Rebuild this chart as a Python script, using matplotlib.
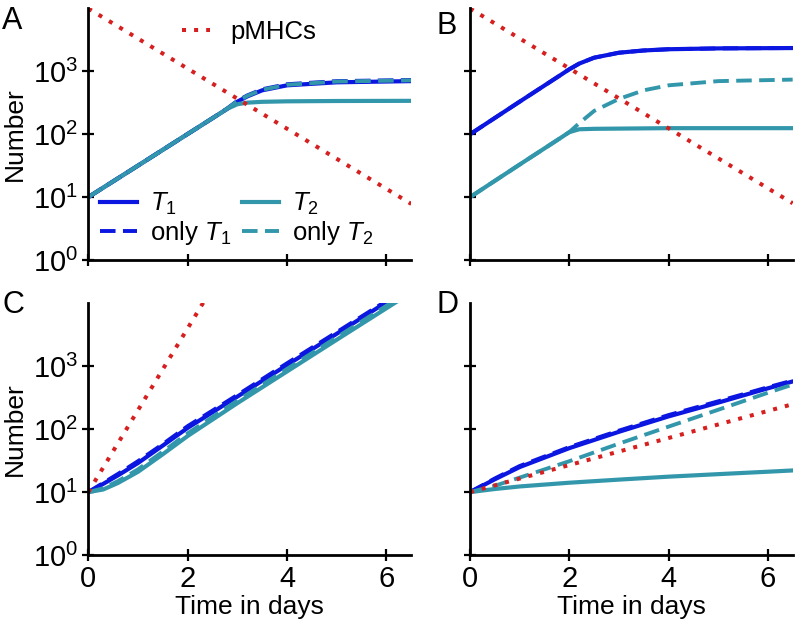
import matplotlib
matplotlib.use("Agg")
import matplotlib.pyplot as plt
from matplotlib.lines import Line2D
from matplotlib.ticker import LogFormatterMathtext, NullLocator

plt.rcParams['font.family'] = ['Liberation Sans', 'DejaVu Sans']
plt.rcParams['mathtext.fontset'] = 'custom'
plt.rcParams['mathtext.rm'] = 'Liberation Sans'
plt.rcParams['mathtext.it'] = 'Liberation Sans:italic'
plt.rcParams['mathtext.bf'] = 'Liberation Sans:bold'

# ---- data ----
# panel A
tA = [0, 1, 2, 2.5, 2.8, 3.0, 3.2, 3.5, 4.0, 5.0, 6.5]
A_T1 = [10, 31.7, 101, 180, 255, 330, 400, 500, 600, 670, 700]
A_T2 = [10, 31.7, 101, 180, 255, 300, 318, 328, 334, 338, 340]
A_onlyT1 = [10, 31.7, 101, 180, 258, 340, 415, 520, 625, 700, 730]
A_onlyT2 = [10, 31.7, 101, 180, 257, 335, 408, 510, 612, 690, 720]
tA_p = [0, 6.5]
A_pMHC = [10000, 7.8]

# panel B
tB = [0, 1, 1.8, 2.0, 2.2, 2.5, 3.0, 3.5, 4.0, 5.0, 6.5]
B_T1 = [100, 330, 850, 1080, 1330, 1650, 1980, 2150, 2250, 2320, 2350]
B_T2 = [10, 33, 85, 108, 120, 122, 123, 124, 125, 125, 125]
B_onlyT1 = [100, 330, 850, 1080, 1330, 1650, 1980, 2150, 2250, 2320, 2350]
B_onlyT2 = [10, 33, 85, 108, 150, 235, 365, 500, 600, 700, 740]
tB_p = [0, 6.5]
B_pMHC = [10000, 8]

# panel C
tC = [0, 0.3, 0.6, 1, 1.5, 2, 3, 4, 5, 6, 6.5]
C_T1 = [10, 13.5, 18.5, 29, 55, 105, 330, 1050, 3300, 10500, 18000]
C_T2 = [10, 11, 14, 21, 40, 78, 260, 830, 2650, 8400, 15000]
C_onlyT1 = [10, 14, 19.5, 31, 58, 112, 350, 1120, 3500, 11000, 19500]
C_onlyT2 = [10, 11.5, 15, 23, 44, 86, 285, 910, 2900, 9200, 16500]
tC_p = [0, 2.35]
C_pMHC = [10, 11500]

# panel D
tD = [0, 0.5, 1, 2, 3, 4, 5, 6, 6.5]
D_T1 = [10, 16, 25, 50, 91, 160, 265, 447, 575]
D_T2 = [10, 11.2, 12.3, 14.1, 15.8, 17.6, 19.3, 21.1, 22.1]
D_onlyT1 = [10, 16.5, 26, 52, 95, 168, 278, 465, 595]
D_onlyT2 = [10, 12.6, 17, 31, 59, 110, 204, 380, 513]
tD_p = [0, 6.5]
D_pMHC = [10, 250]

xticks = [0, 2, 4, 6]
yticks = [1, 10, 100, 1000]

BLUE = '#0b16e0'
TEAL = '#3397ab'
RED = '#d61f1f'
solid = dict(lw=3.0)
dashed = dict(lw=2.8, ls=(0, (4.0, 1.9)))
dotted = dict(lw=2.9, ls=(0, (1, 2)))

fig = plt.figure(figsize=(7.96, 6.24), dpi=100)
pos = {
    'A': [0.1109, 0.5833, 0.4058, 0.4045],
    'B': [0.5905, 0.5833, 0.4053, 0.4045],
    'C': [0.1109, 0.1106, 0.4058, 0.4045],
    'D': [0.5905, 0.1106, 0.4053, 0.4045],
}
panels = {
    'A': (tA, A_T1, A_T2, A_onlyT1, A_onlyT2, tA_p, A_pMHC),
    'B': (tB, B_T1, B_T2, B_onlyT1, B_onlyT2, tB_p, B_pMHC),
    'C': (tC, C_T1, C_T2, C_onlyT1, C_onlyT2, tC_p, C_pMHC),
    'D': (tD, D_T1, D_T2, D_onlyT1, D_onlyT2, tD_p, D_pMHC),
}

axes = {}
for name, (t, t1, t2, o1, o2, tp, pm) in panels.items():
    ax = fig.add_axes(pos[name])
    axes[name] = ax
    ax.plot(t, t1, color=BLUE, **solid)
    ax.plot(t, t2, color=TEAL, **solid)
    ax.plot(t, o1, color=BLUE, **dashed)
    ax.plot(t, o2, color=TEAL, **dashed)
    ax.plot(tp, pm, color=RED, **dotted)
    ax.set_yscale('log')
    ax.set_xlim(0, 6.5)
    ax.set_ylim(1, 10 ** 4.014)
    ax.set_xticks(xticks)
    ax.set_yticks(yticks)
    ax.yaxis.set_minor_locator(NullLocator())
    ax.yaxis.set_major_formatter(LogFormatterMathtext())
    for s in ['top', 'right']:
        ax.spines[s].set_visible(False)
    for s in ['left', 'bottom']:
        ax.spines[s].set_linewidth(2)
    ax.tick_params(direction='inout', length=9, width=1.6, labelsize=21, pad=3)
    if name in ('A', 'C'):
        ax.set_ylabel('Number', fontsize=19)
        ax.yaxis.set_label_coords(-0.19, 0.5)
    else:
        ax.tick_params(labelleft=False)
    if name in ('C', 'D'):
        ax.set_xlabel('Time in days', fontsize=19)
        ax.xaxis.set_label_coords(0.5, -0.16)
    else:
        ax.tick_params(labelbottom=False)

# legends in panel A
axA = axes['A']
h_p = Line2D([], [], color=RED, **dotted)
leg1 = axA.legend([h_p], ['pMHCs'], loc='center left', bbox_to_anchor=(0.29, 0.905),
                  frameon=False, fontsize=18.5, handlelength=1.1, handletextpad=0.8,
                  borderpad=0, borderaxespad=0)
axA.add_artist(leg1)
hs = [Line2D([], [], color=BLUE, **solid), Line2D([], [], color=BLUE, **dashed),
      Line2D([], [], color=TEAL, **solid), Line2D([], [], color=TEAL, **dashed)]
labels = ['$T_1$', 'only $T_1$', '$T_2$', 'only $T_2$']
axA.legend(hs, labels, ncol=2, loc='lower left', bbox_to_anchor=(0.036, 0.05),
           frameon=False, fontsize=18.5, handlelength=1.45, handletextpad=0.5,
           columnspacing=0.4, labelspacing=0.1, borderpad=0, borderaxespad=0)

# panel letters
fig.text(0.003, 1 - 6 / 624, 'A', fontsize=22, va='top', ha='left')
fig.text(0.548, 1 - 11 / 624, 'B', fontsize=22, va='top', ha='left')
fig.text(0.003, 1 - 290 / 624, 'C', fontsize=22, va='top', ha='left')
fig.text(0.548, 1 - 290 / 624, 'D', fontsize=22, va='top', ha='left')

fig.savefig('out.png', dpi=100)
